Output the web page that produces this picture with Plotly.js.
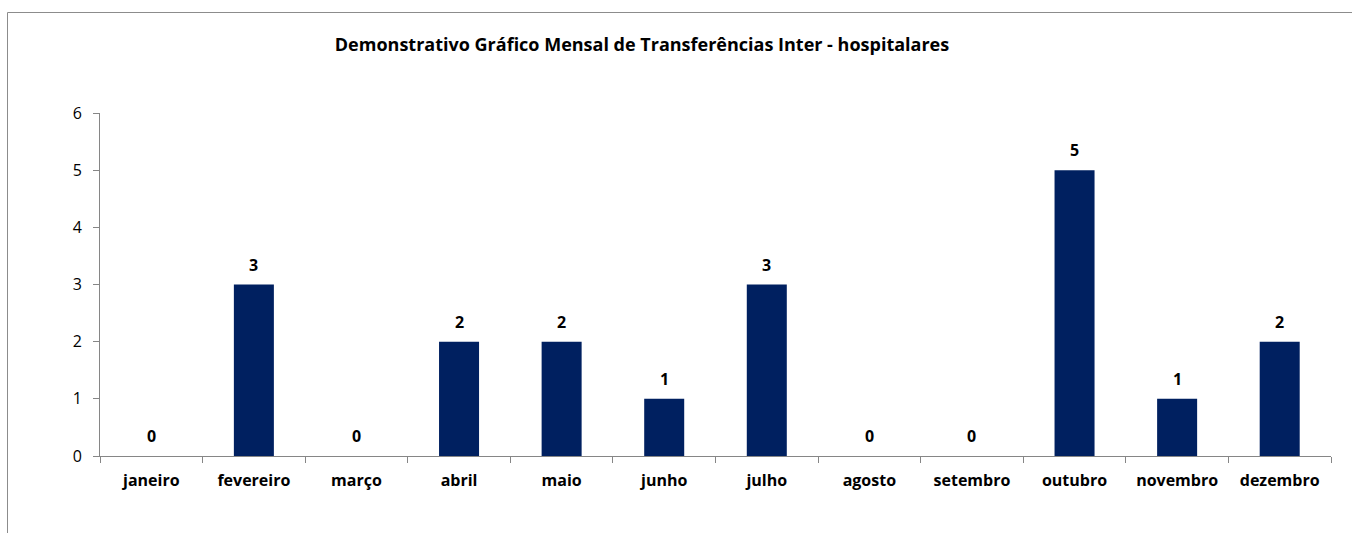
<!DOCTYPE html>
<html>
<head>
<meta charset="utf-8">
<script src="https://cdn.plot.ly/plotly-3.0.1.min.js"></script>
<style>
html, body { margin: 0; padding: 0; background: #ffffff; overflow: hidden; }
#chart { width: 1352px; height: 533px; }
</style>
</head>
<body>
<div id="chart"></div>
<script>
const months = ["janeiro", "fevereiro", "março", "abril", "maio", "junho", "julho", "agosto", "setembro", "outubro", "novembro", "dezembro"];
const transfers = [0, 3, 0, 2, 2, 1, 3, 0, 0, 5, 1, 2];
const yTicks = [0, 1, 2, 3, 4, 5, 6];
const chartTitle = "Demonstrativo Gráfico Mensal de Transferências Inter - hospitalares";

const W = 1352, H = 533;
const m = { l: 100, r: 21, t: 113, b: 77 };
const pw = W - m.l - m.r, ph = H - m.t - m.b;
const px = v => (v - m.l) / pw;
const py = v => (H - m.b - v) / ph;

const FONT = "Open Sans, Noto Sans, sans-serif";

const annotations = months.map((mo, i) => ({
  x: mo, y: transfers[i], xref: "x", yref: "y",
  text: "<b>" + transfers[i] + "</b>",
  showarrow: false, yanchor: "middle", xanchor: "center", yshift: 20,
  font: { family: FONT, size: 16, color: "#000000" }
}));

const frameColor = "#8c8c8c";
const shapes = [
  { type: "line", xref: "paper", yref: "paper", x0: px(7.5), x1: px(1352), y0: py(12.5), y1: py(12.5), line: { color: frameColor, width: 1 } },
  { type: "line", xref: "paper", yref: "paper", x0: px(7.5), x1: px(7.5), y0: py(12.5), y1: py(533), line: { color: frameColor, width: 1 } }
];

const data = [{
  type: "bar",
  x: months,
  y: transfers,
  marker: { color: "#002060", line: { width: 0 } },
  hoverinfo: "x+y"
}];

const layout = {
  width: W, height: H,
  margin: m,
  paper_bgcolor: "#ffffff",
  plot_bgcolor: "#ffffff",
  showlegend: false,
  bargap: 0.61,
  title: {
    text: "<b>" + chartTitle + "</b>",
    x: 642 / W, xref: "container", xanchor: "center",
    y: 1 - 45 / H, yref: "container", yanchor: "middle",
    font: { family: FONT, size: 18, color: "#000000" }
  },
  xaxis: {
    type: "category",
    showgrid: false, zeroline: false,
    showline: true, linecolor: "#868686", linewidth: 1,
    ticks: "outside", tickson: "boundaries", ticklen: 6, tickcolor: "#868686",
    tickfont: { family: FONT, size: 16, color: "#000000", weight: "bold" },
    ticklabelstandoff: 10
  },
  yaxis: {
    range: [0, 6], tickvals: yTicks, ticktext: yTicks.map(String),
    showgrid: false, zeroline: false,
    showline: true, linecolor: "#868686", linewidth: 1,
    ticks: "outside", ticklen: 6, tickcolor: "#868686",
    tickfont: { family: FONT, size: 16, color: "#000000" },
    ticklabelstandoff: 8
  },
  annotations: annotations,
  shapes: shapes
};

Plotly.newPlot("chart", data, layout, { displayModeBar: false, staticPlot: true });
</script>
</body>
</html>
